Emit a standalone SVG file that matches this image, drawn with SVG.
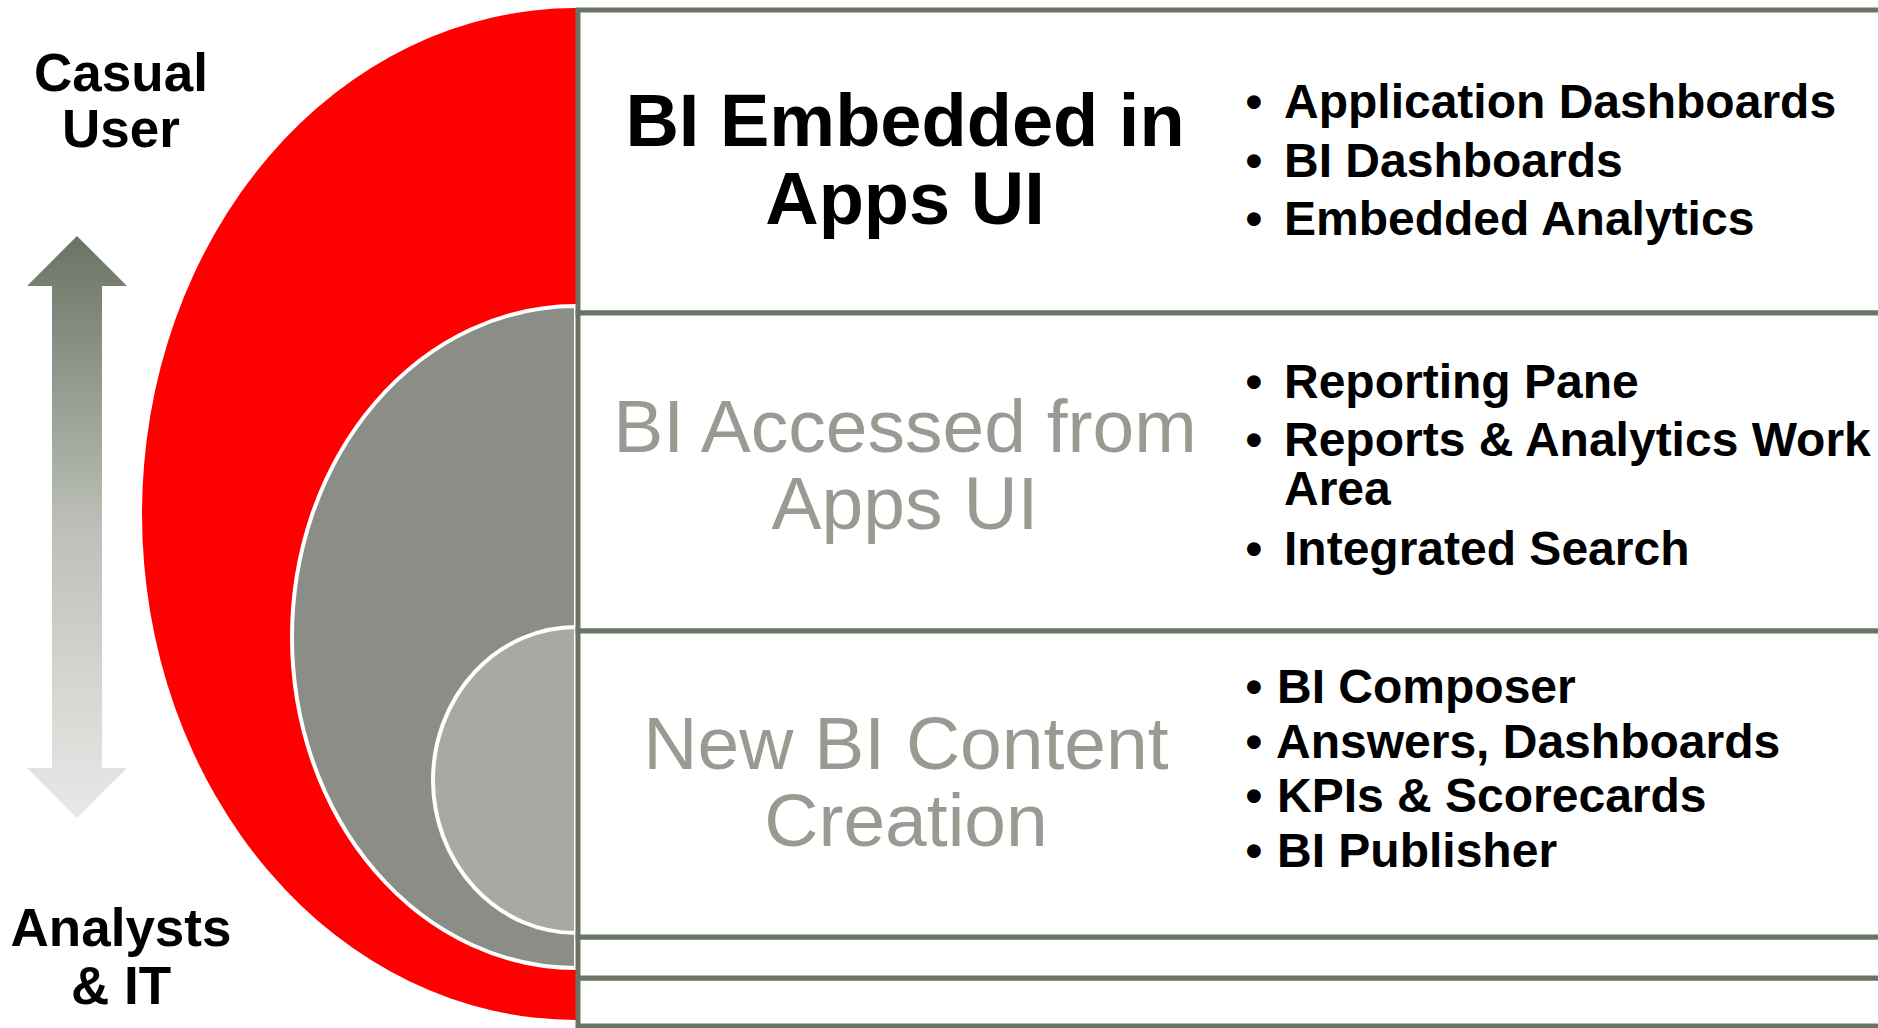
<svg xmlns="http://www.w3.org/2000/svg" width="1878" height="1028" viewBox="0 0 1878 1028">
  <defs>
    <linearGradient id="arrowGrad" x1="0" y1="236" x2="0" y2="818" gradientUnits="userSpaceOnUse">
      <stop offset="0" stop-color="#6a7364"/>
      <stop offset="0.5" stop-color="#bcc0b8"/>
      <stop offset="1" stop-color="#e8e9e7"/>
    </linearGradient>
    <style>
      .box { fill: #ffffff; stroke: #6a7466; stroke-width: 5; }
      .side { font-family: "Liberation Sans", Arial, sans-serif; font-weight: bold; font-size: 53px; fill: #000000; text-anchor: middle; }
      .title-on { font-family: "Liberation Sans", Arial, sans-serif; font-weight: bold; font-size: 74px; fill: #000000; text-anchor: middle; }
      .title-off { font-family: "Liberation Sans", Arial, sans-serif; font-weight: normal; font-size: 75px; fill: #999b92; text-anchor: middle; }
      .item { font-family: "Liberation Sans", Arial, sans-serif; font-weight: bold; font-size: 48px; fill: #000000; }
      .bullet { font-family: "Liberation Sans", Arial, sans-serif; font-weight: bold; font-size: 48px; fill: #000000; text-anchor: middle; }
      .arc { stroke: #ffffff; stroke-width: 4; }
    </style>
  </defs>
  <rect x="0" y="0" width="1878" height="1028" fill="#ffffff"/>

  <g id="connectors">
    <polygon points="77,236 127,286 102,286 102,768 127,768 77,818 27,768 52,768 52,286 27,286" fill="url(#arrowGrad)"/>
  </g>

  <g id="label-casual-user">
    <text class="side" x="121" y="91">Casual</text>
    <text class="side" x="121" y="147">User</text>
  </g>
  <g id="label-analysts-it">
    <text class="side" x="121" y="946">Analysts</text>
    <text class="side" x="121" y="1004">&amp; IT</text>
  </g>

  <g id="tier-shapes">
    <path d="M 576,8 A 434,506 0 0 0 576,1020 Z" fill="#ff0000"/>
    <path class="arc" d="M 576,306 A 284,331 0 0 0 576,968 Z" fill="#8a8e86"/>
    <path class="arc" d="M 576,627 A 143,153 0 0 0 576,933 Z" fill="#a7aaa4"/>
  </g>

  <g id="box-bottom">
    <rect class="box" x="578" y="978" width="1320" height="48"/>
  </g>
  <g id="box-spacer">
    <rect class="box" x="578" y="937" width="1320" height="41"/>
  </g>

  <g id="tier-embedded">
    <rect class="box" x="578" y="10" width="1320" height="303"/>
    <text class="title-on" x="905" y="146">BI Embedded in</text>
    <text class="title-on" x="905" y="224">Apps UI</text>
    <text class="bullet" x="1254" y="118">•</text>
    <text class="item" x="1284" y="118">Application Dashboards</text>
    <text class="bullet" x="1254" y="177">•</text>
    <text class="item" x="1284" y="177">BI Dashboards</text>
    <text class="bullet" x="1254" y="235">•</text>
    <text class="item" x="1284" y="235">Embedded Analytics</text>
  </g>

  <g id="tier-accessed">
    <rect class="box" x="578" y="313" width="1320" height="318"/>
    <text class="title-off" x="905" y="452">BI Accessed from</text>
    <text class="title-off" x="905" y="529">Apps UI</text>
    <text class="bullet" x="1254" y="398">•</text>
    <text class="item" x="1284" y="398">Reporting Pane</text>
    <text class="bullet" x="1254" y="456">•</text>
    <text class="item" x="1284" y="456">Reports &amp; Analytics Work</text>
    <text class="item" x="1284" y="505">Area</text>
    <text class="bullet" x="1254" y="565">•</text>
    <text class="item" x="1284" y="565">Integrated Search</text>
  </g>

  <g id="tier-creation">
    <rect class="box" x="578" y="631" width="1320" height="306"/>
    <text class="title-off" x="906" y="769">New BI Content</text>
    <text class="title-off" x="906" y="846">Creation</text>
    <text class="bullet" x="1254" y="703">•</text>
    <text class="item" x="1277" y="703">BI Composer</text>
    <text class="bullet" x="1254" y="758">•</text>
    <text class="item" x="1276" y="758">Answers, Dashboards</text>
    <text class="bullet" x="1254" y="812">•</text>
    <text class="item" x="1277" y="812">KPIs &amp; Scorecards</text>
    <text class="bullet" x="1254" y="867">•</text>
    <text class="item" x="1277" y="867">BI Publisher</text>
  </g>
</svg>
